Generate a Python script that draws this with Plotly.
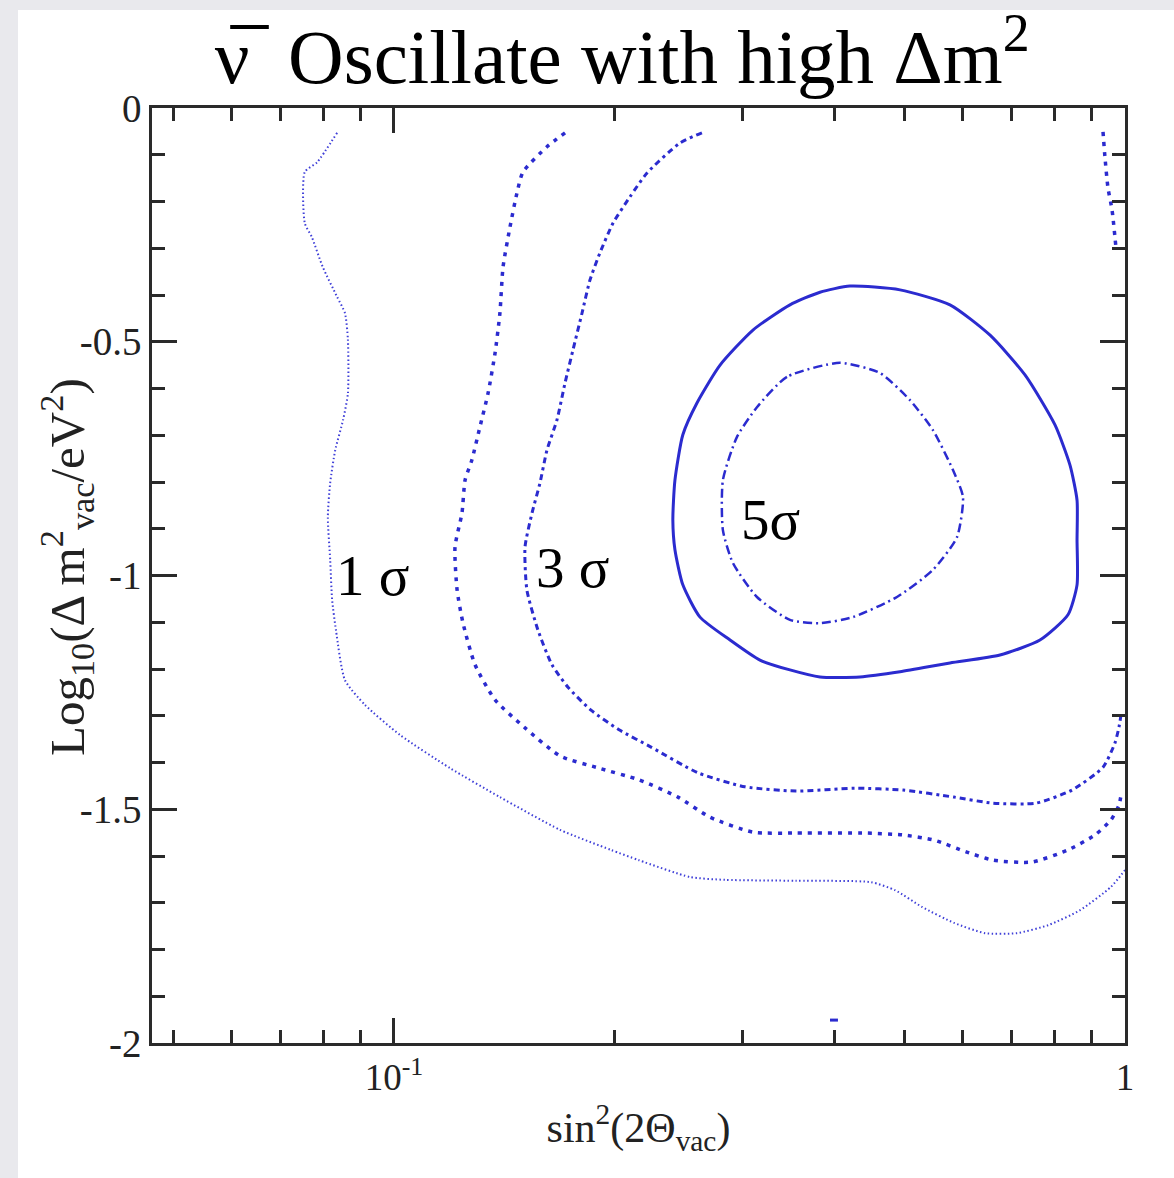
import math
import plotly.graph_objects as go

# ---------------- data ----------------
# x: sin^2(2 theta_vac), y: log10(dm^2 / eV^2)
sig1_x = [0.0836, 0.0785, 0.0755, 0.0755, 0.0772, 0.0799, 0.0836, 0.0857, 0.0865, 0.0865,
          0.0852, 0.0831, 0.0818, 0.0812, 0.0818, 0.0823, 0.0833, 0.0857, 0.0913, 0.1019,
          0.1193, 0.1396, 0.1687, 0.1981, 0.2163, 0.2541, 0.2837, 0.3548, 0.4494, 0.4846,
          0.5276, 0.5836, 0.6434, 0.7115, 0.7847, 0.8678, 0.9568, 1.0]
sig1_y = [-0.053, -0.116, -0.137, -0.246, -0.276, -0.340, -0.404, -0.439, -0.496, -0.610,
          -0.667, -0.732, -0.802, -0.875, -0.967, -1.052, -1.117, -1.224, -1.277, -1.341,
          -1.412, -1.474, -1.544, -1.587, -1.609, -1.645, -1.651, -1.653, -1.656, -1.673,
          -1.709, -1.743, -1.765, -1.765, -1.748, -1.716, -1.666, -1.630]

sig2_x = [0.1714, 0.1619, 0.1501, 0.1473, 0.1441, 0.1410, 0.1396, 0.1375, 0.1345, 0.1311,
          0.1278, 0.1251, 0.1239, 0.1212, 0.1220, 0.1243, 0.1291, 0.1375, 0.1511, 0.1687,
          0.1907, 0.2163, 0.2446, 0.2706, 0.3098, 0.3548, 0.4437, 0.4970, 0.5479, 0.6061,
          0.6600, 0.7458, 0.8356, 0.9098, 0.9568, 0.9813, 0.9875,
          None,
          0.9331, 0.9390, 0.9478, 0.9600, 0.9720]
sig2_y = [-0.053, -0.083, -0.137, -0.182, -0.255, -0.340, -0.439, -0.524, -0.610, -0.682,
          -0.753, -0.796, -0.866, -0.939, -1.031, -1.102, -1.191, -1.266, -1.326, -1.386,
          -1.412, -1.437, -1.474, -1.517, -1.549, -1.551, -1.551, -1.555, -1.566, -1.591,
          -1.609, -1.613, -1.587, -1.555, -1.523, -1.491, -1.470,
          None,
          -0.051, -0.107, -0.171, -0.218, -0.299]

sig3_x = [0.2638, 0.2461, 0.2219, 0.2103, 0.1994, 0.1913, 0.1854, 0.1808, 0.1757, 0.1714,
          0.1671, 0.1619, 0.1584, 0.1545, 0.1511, 0.1520, 0.1574, 0.1645, 0.1730, 0.1860,
          0.2032, 0.2247, 0.2605, 0.3021, 0.3548, 0.4272, 0.4970, 0.5836, 0.6600, 0.7552,
          0.8463, 0.9331, 0.9690, 0.9813, 0.9875]
sig3_y = [-0.053, -0.075, -0.139, -0.190, -0.246, -0.310, -0.368, -0.439, -0.518, -0.588,
          -0.667, -0.732, -0.802, -0.866, -0.939, -1.031, -1.117, -1.191, -1.239, -1.288,
          -1.330, -1.367, -1.422, -1.452, -1.461, -1.455, -1.459, -1.474, -1.487, -1.487,
          -1.459, -1.410, -1.358, -1.324, -1.298]

sig4_x = [0.4205, 0.4923, 0.5762, 0.6538, 0.7298, 0.8021, 0.8409, 0.8598, 0.8598, 0.8598,
          0.8356, 0.7650, 0.6745, 0.5762, 0.4923, 0.4340, 0.3826, 0.3481, 0.3167, 0.2882,
          0.2622, 0.2484, 0.2423, 0.2407, 0.2423, 0.2484, 0.2597, 0.2793, 0.3098, 0.3481,
          0.3826, 0.4205,
          None,
          0.3949, 0.4049]
sig4_y = [-0.381, -0.389, -0.421, -0.486, -0.571, -0.678, -0.764, -0.839, -0.924, -1.020,
          -1.084, -1.138, -1.170, -1.187, -1.206, -1.217, -1.217, -1.202, -1.181, -1.138,
          -1.089, -1.020, -0.945, -0.881, -0.796, -0.699, -0.631, -0.550, -0.475, -0.421,
          -0.394, -0.381,
          None,
          -1.951, -1.951]

sig5_x = [0.4074, 0.3448, 0.3137, 0.2945, 0.2818, 0.2818, 0.2908, 0.3137, 0.3481, 0.3826,
          0.4245, 0.4876, 0.5461, 0.5891, 0.6003, 0.5815, 0.5461, 0.5080, 0.4623, 0.4074]
sig5_y = [-0.545, -0.575, -0.640, -0.704, -0.796, -0.903, -0.973, -1.046, -1.095, -1.102,
          -1.089, -1.046, -0.988, -0.918, -0.832, -0.774, -0.689, -0.625, -0.567, -0.545]

label_text = ["1 σ", "3 σ", "5σ"]
label_x = [0.0935, 0.1755, 0.327]
label_y = [-0.999, -0.982, -0.881]

x_major_vals = [0.1, 1]
x_major_text = ["10<sup>-1</sup>", "1"]
x_minor_vals = [0.05, 0.06, 0.07, 0.08, 0.09, 0.2, 0.3, 0.4, 0.5, 0.6, 0.7, 0.8, 0.9]
y_major_vals = [0, -0.5, -1, -1.5, -2]
y_major_text = ["0", "-0.5", "-1", "-1.5", "-2"]

# ---------------- styling ----------------
BLUE = "#2b2bcf"
SERIF = "Liberation Serif, Times New Roman, serif"
AX = "#2a2a2a"

fig = go.Figure()
styles = [
    (sig1_x, sig1_y, dict(color="#4040d8", width=2.0, dash="1.5px,2.5px")),
    (sig2_x, sig2_y, dict(color=BLUE, width=3.5, dash="4px,6px")),
    (sig3_x, sig3_y, dict(color=BLUE, width=3.0, dash="6px,4px,3px,4px")),
    (sig4_x, sig4_y, dict(color=BLUE, width=3.0)),
    (sig5_x, sig5_y, dict(color=BLUE, width=2.5, dash="9px,4px,2px,4px")),
]
for xs, ys, ln in styles:
    fig.add_trace(go.Scatter(x=xs, y=ys, mode="lines", line=dict(shape="spline", smoothing=0.6, **ln),
                             connectgaps=False, showlegend=False, hoverinfo="skip"))

# annotations on a log axis take log10 positions
for t, lx, ly in zip(label_text, label_x, label_y):
    fig.add_annotation(x=math.log10(lx), y=ly, xref="x", yref="y", text=t, showarrow=False,
                       xanchor="center", yanchor="middle",
                       font=dict(family=SERIF, size=57, color="black"))

# y-axis title (placed as annotation to sit close to the tick labels as in the original)
fig.add_annotation(xref="paper", yref="paper", x=(66 - 152) / 973, y=(1043 - 567) / 935,
                   text="Log<sub>10</sub>(Δ m<sup>2</sup><sub>vac</sub>/eV<sup>2</sup>)",
                   textangle=-90, showarrow=False, xanchor="center", yanchor="middle",
                   font=dict(family=SERIF, size=49, color="#222"))

fig.update_layout(
    width=1174, height=1178,
    margin=dict(l=152, r=49, t=108, b=135),
    paper_bgcolor="#e9e9ed",
    plot_bgcolor="white",
    title=dict(text="ν\u0305  Oscillate with high Δm<sup>2</sup>",
               font=dict(family=SERIF, size=77, color="black"),
               xref="container", x=0.53, xanchor="center",
               yref="container", y=0.952, yanchor="middle"),
    shapes=[dict(type="rect", xref="paper", yref="paper", layer="below",
                 x0=-134 / 973, x1=1.06, y0=-135 / 935, y1=1 + 98 / 935,
                 fillcolor="white", line=dict(width=0))],
    xaxis=dict(type="log", range=[-1.331, 0], showgrid=False, zeroline=False,
               showline=True, linecolor=AX, linewidth=2.5, mirror="ticks",
               ticks="inside", ticklen=25, tickwidth=2.5, tickcolor=AX,
               tickvals=x_major_vals, ticktext=x_major_text,
               tickfont=dict(family=SERIF, size=37, color="#222"),
               minor=dict(ticks="inside", ticklen=13, tickwidth=2.5, tickcolor=AX,
                          tickvals=x_minor_vals, showgrid=False),
               title=dict(text="sin<sup>2</sup>(2Θ<sub>vac</sub>)",
                          font=dict(family=SERIF, size=42, color="#222"), standoff=16)),
    yaxis=dict(range=[-2, 0], showgrid=False, zeroline=False,
               showline=True, linecolor=AX, linewidth=2.5, mirror="ticks",
               ticks="inside", ticklen=25, tickwidth=2.5, tickcolor=AX,
               tickvals=y_major_vals, ticktext=y_major_text,
               tickfont=dict(family=SERIF, size=39, color="#222"),
               minor=dict(ticks="inside", ticklen=13, tickwidth=2.5, tickcolor=AX,
                          dtick=0.1, showgrid=False)),
)

fig.write_html("out.html")
